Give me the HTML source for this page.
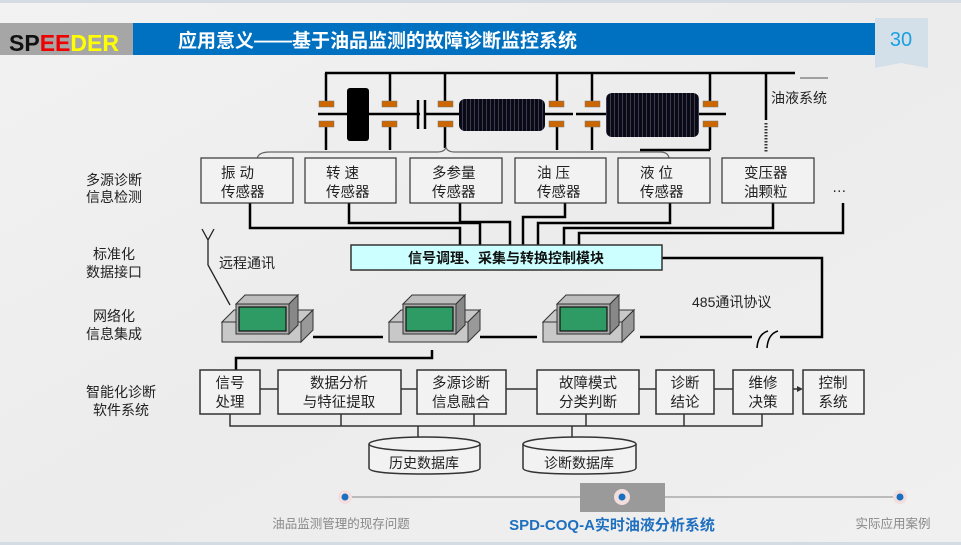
<!DOCTYPE html>
<html><head><meta charset="utf-8"><style>
html,body{margin:0;padding:0;}
body{width:961px;height:545px;overflow:hidden;background:#efefef;font-family:"Liberation Sans","Noto Sans CJK SC",sans-serif;}
svg{display:block}
text{font-family:"Liberation Sans","Noto Sans CJK SC",sans-serif;}
</style></head><body>
<svg width="961" height="545" viewBox="0 0 961 545" xmlns="http://www.w3.org/2000/svg">
<defs>
<linearGradient id="bg" x1="0" y1="0" x2="1" y2="1"><stop offset="0" stop-color="#f2f2f2"/><stop offset="0.5" stop-color="#ececec"/><stop offset="1" stop-color="#f0f0f0"/></linearGradient>
<pattern id="worm" width="4" height="40" patternUnits="userSpaceOnUse"><rect width="4" height="40" fill="#0a0a14"/><rect x="2" width="1" height="40" fill="#3a3a55"/></pattern>
</defs>
<rect width="961" height="545" fill="url(#bg)"/>
<rect x="0" y="0" width="961" height="3" fill="#d5dbe2"/>
<rect x="0" y="542" width="961" height="3" fill="#d5dbe2"/>
<!-- header -->
<rect x="0" y="23" width="133" height="32" fill="#a6a6a6"/>
<rect x="133" y="23" width="742" height="32" fill="#0070c0"/>
<text x="9" y="51" font-size="23" font-weight="bold"><tspan fill="#111">SP</tspan><tspan fill="#e00">EE</tspan><tspan fill="#ff0">DER</tspan></text>
<text x="178" y="47" font-size="19" font-weight="bold" fill="#fff">应用意义——基于油品监测的故障诊断监控系统</text>
<path d="M875 18 H928 V68 L901 63 L875 68 Z" fill="#d3e0ea"/>
<text x="901" y="46" font-size="20" fill="#1aa0e0" text-anchor="middle">30</text>

<!-- machine -->
<g stroke="#000" stroke-width="2.5" fill="none">
<line x1="325" y1="73" x2="795" y2="73"/>
<line x1="326" y1="73" x2="326" y2="102"/><line x1="390" y1="73" x2="390" y2="102"/>
<line x1="445" y1="73" x2="445" y2="102"/><line x1="557" y1="73" x2="557" y2="102"/>
<line x1="592" y1="73" x2="592" y2="102"/><line x1="710" y1="73" x2="710" y2="102"/>
<line x1="766" y1="73" x2="766" y2="120"/>
<line x1="318" y1="114" x2="420" y2="114"/><line x1="424" y1="114" x2="460" y2="114"/>
<line x1="545" y1="114" x2="573" y2="114"/><line x1="576" y1="114" x2="606" y2="114"/>
<line x1="699" y1="114" x2="726" y2="114"/>
<line x1="326" y1="126" x2="326" y2="150"/><line x1="390" y1="126" x2="390" y2="150"/>
<line x1="445" y1="126" x2="445" y2="148"/><line x1="557" y1="126" x2="557" y2="150"/>
<line x1="592" y1="126" x2="592" y2="150"/><line x1="710" y1="126" x2="710" y2="150"/>
<line x1="640" y1="150" x2="710" y2="150"/>
<line x1="418" y1="100" x2="418" y2="129"/><line x1="425" y1="100" x2="425" y2="129"/>
</g>
<line x1="766" y1="123" x2="766" y2="152" stroke="#333" stroke-width="3" stroke-dasharray="1.5 1.5"/>
<line x1="800" y1="78" x2="828" y2="78" stroke="#555" stroke-width="1"/>
<path d="M257 160 Q257 152 270 152 H437 Q445 152 446 147 Q447 152 455 152 H660 Q668 152 669 158" fill="none" stroke="#666" stroke-width="1.2"/>
<g fill="#cc6600" stroke="#777" stroke-width="0.5">
<rect x="319" y="101" width="15" height="6"/><rect x="319" y="121" width="15" height="6"/>
<rect x="382" y="101" width="15" height="6"/><rect x="382" y="121" width="15" height="6"/>
<rect x="438" y="101" width="15" height="6"/><rect x="438" y="121" width="15" height="6"/>
<rect x="549" y="101" width="15" height="6"/><rect x="549" y="121" width="15" height="6"/>
<rect x="585" y="101" width="15" height="6"/><rect x="585" y="121" width="15" height="6"/>
<rect x="703" y="101" width="15" height="6"/><rect x="703" y="121" width="15" height="6"/>
</g>
<rect x="347" y="88" width="22" height="53" rx="3" fill="#000"/>
<rect x="459" y="99" width="86" height="32" rx="6" fill="url(#worm)"/>
<rect x="606" y="93" width="93" height="44" rx="6" fill="url(#worm)"/>
<text x="771" y="103" font-size="14" fill="#222">油液系统</text>

<!-- left labels -->
<g font-size="14" fill="#222" text-anchor="middle">
<text x="114" y="185">多源诊断</text><text x="114" y="202">信息检测</text>
<text x="114" y="259">标准化</text><text x="114" y="277">数据接口</text>
<text x="114" y="321">网络化</text><text x="114" y="339">信息集成</text>
<text x="121" y="397">智能化诊断</text><text x="121" y="415">软件系统</text>
</g>

<!-- sensor lines -->
<g stroke="#000" stroke-width="2.5" fill="none">
<polyline points="250,203 250,228 460,228 460,245"/>
<polyline points="349,203 349,223 480,223 480,245"/>
<polyline points="460,203 460,222 510,222 510,245"/>
<polyline points="565,203 565,217 523,217 523,245"/>
<polyline points="670,203 670,223 538,223 538,245"/>
<polyline points="773,203 773,228 564,228 564,245"/>
<polyline points="843,203 843,233 579,233 579,245"/>
<polyline points="662,258 822,258 822,337 780,337"/>
<line x1="752" y1="337" x2="640" y2="337"/>
<line x1="313" y1="337" x2="383" y2="337"/>
<line x1="480" y1="337" x2="537" y2="337"/>
<polyline points="432,350 432,358 236,358 236,371"/>
</g>
<path d="M757 348 Q758 334 768 331 M767 348 Q768 334 778 331" stroke="#000" stroke-width="1.5" fill="none"/>
<text x="692" y="307" font-size="14" fill="#222">485通讯协议</text>

<!-- sensor boxes -->
<g fill="#f2f2f2" stroke="#333" stroke-width="1.2">
<rect x="201" y="158" width="92" height="45"/><rect x="305" y="158" width="91" height="45"/>
<rect x="410" y="158" width="92" height="45"/><rect x="515" y="158" width="91" height="45"/>
<rect x="618" y="158" width="92" height="45"/><rect x="722" y="158" width="92" height="45"/>
</g>
<g font-size="14.5" fill="#222">
<text x="221" y="178">振 动</text><text x="221" y="197">传感器</text>
<text x="326" y="178">转 速</text><text x="326" y="197">传感器</text>
<text x="432" y="178">多参量</text><text x="432" y="197">传感器</text>
<text x="537" y="178">油 压</text><text x="537" y="197">传感器</text>
<text x="640" y="178">液 位</text><text x="640" y="197">传感器</text>
<text x="744" y="178">变压器</text><text x="744" y="197">油颗粒</text>
<text x="832" y="192">…</text>
</g>

<!-- module -->
<rect x="351" y="245" width="311" height="25" fill="#ccffff" stroke="#333" stroke-width="1.5"/>
<text x="506" y="263" font-size="14" font-weight="bold" fill="#111" text-anchor="middle">信号调理、采集与转换控制模块</text>

<!-- antenna -->
<g stroke="#222" stroke-width="1.3" fill="none">
<path d="M202 229 L208 240 L214 229 M208 240 V265 L230 305"/>
</g>
<text x="219" y="268" font-size="14" fill="#222">远程通讯</text>

<!-- computers -->
<g id="pc">
<polygon points="222,322 234,310 313,310 301,322" fill="#c8c8c8" stroke="#333" stroke-width="1"/>
<rect x="222" y="322" width="79" height="20" fill="#c8c8c8" stroke="#333" stroke-width="1"/>
<polygon points="301,322 313,310 313,330 301,342" fill="#999" stroke="#333" stroke-width="1"/>
<polygon points="236,304 245,295 298,295 289,304" fill="#bdbdbd" stroke="#333" stroke-width="1"/>
<polygon points="289,304 298,295 298,325 289,334" fill="#888" stroke="#333" stroke-width="1"/>
<rect x="236" y="304" width="53" height="30" fill="#aaa" stroke="#333" stroke-width="1"/>
<rect x="239" y="307" width="47" height="24" fill="#2e9a64" stroke="#111" stroke-width="1.2"/>
</g>
<use href="#pc" x="167"/>
<use href="#pc" x="321"/>

<!-- bottom row -->
<g stroke="#333" stroke-width="1.5" fill="none">
<line x1="260" y1="389" x2="278" y2="389"/><line x1="401" y1="389" x2="417" y2="389"/>
<line x1="506" y1="389" x2="537" y2="389"/><line x1="639" y1="389" x2="656" y2="389"/>
<line x1="714" y1="389" x2="733" y2="389"/><line x1="793" y1="389" x2="798" y2="389"/>
<polyline points="230,414 230,426 762,426 762,414"/>
<line x1="341" y1="414" x2="341" y2="426"/><line x1="474" y1="414" x2="474" y2="426"/>
<line x1="586" y1="414" x2="586" y2="426"/><line x1="684" y1="414" x2="684" y2="426"/>
<line x1="418" y1="426" x2="418" y2="440"/><line x1="572" y1="426" x2="572" y2="440"/>
</g>
<polygon points="797,386 803,389 797,392" fill="#333"/>
<g fill="#f2f2f2" stroke="#333" stroke-width="1.5">
<rect x="200" y="370" width="60" height="44"/><rect x="278" y="370" width="123" height="44"/>
<rect x="417" y="370" width="89" height="44"/><rect x="537" y="370" width="102" height="44"/>
<rect x="656" y="370" width="58" height="44"/><rect x="733" y="370" width="60" height="44"/>
<rect x="803" y="370" width="61" height="44"/>
</g>
<g font-size="14.5" fill="#222" text-anchor="middle">
<text x="230" y="388">信号</text><text x="230" y="407">处理</text>
<text x="339" y="388">数据分析</text><text x="339" y="407">与特征提取</text>
<text x="461" y="388">多源诊断</text><text x="461" y="407">信息融合</text>
<text x="588" y="388">故障模式</text><text x="588" y="407">分类判断</text>
<text x="685" y="388">诊断</text><text x="685" y="407">结论</text>
<text x="763" y="388">维修</text><text x="763" y="407">决策</text>
<text x="833" y="388">控制</text><text x="833" y="407">系统</text>
</g>
<!-- databases -->
<g fill="#f2f2f2" stroke="#333" stroke-width="1.5">
<path d="M369 444 V468 Q369 474 424 474 Q480 474 480 468 V444"/>
<ellipse cx="424.5" cy="444" rx="55.5" ry="7"/>
<path d="M523 444 V468 Q523 474 579 474 Q636 474 636 468 V444"/>
<ellipse cx="579.5" cy="444" rx="56.5" ry="7"/>
</g>
<text x="424" y="468" font-size="14" fill="#222" text-anchor="middle">历史数据库</text>
<text x="579" y="468" font-size="14" fill="#222" text-anchor="middle">诊断数据库</text>

<!-- nav -->
<line x1="345" y1="497" x2="900" y2="497" stroke="#aaa" stroke-width="1.5"/>
<rect x="580" y="483" width="85" height="29" fill="#9a9a9a"/>
<circle cx="345" cy="497" r="7" fill="#f3dede"/><circle cx="345" cy="497" r="3.5" fill="#1a6fc0"/>
<circle cx="900" cy="497" r="7" fill="#f3dede"/><circle cx="900" cy="497" r="3.5" fill="#1a6fc0"/>
<circle cx="622" cy="497" r="8" fill="#f3dede"/><circle cx="622" cy="497" r="3.5" fill="#1a6fc0"/>
<text x="341" y="528" font-size="12.5" fill="#888" text-anchor="middle">油品监测管理的现存问题</text>
<text x="612" y="530" font-size="15" font-weight="bold" fill="#1f6fbf" text-anchor="middle">SPD-COQ-A实时油液分析系统</text>
<text x="893" y="528" font-size="12.5" fill="#888" text-anchor="middle">实际应用案例</text>
</svg>
</body></html>
